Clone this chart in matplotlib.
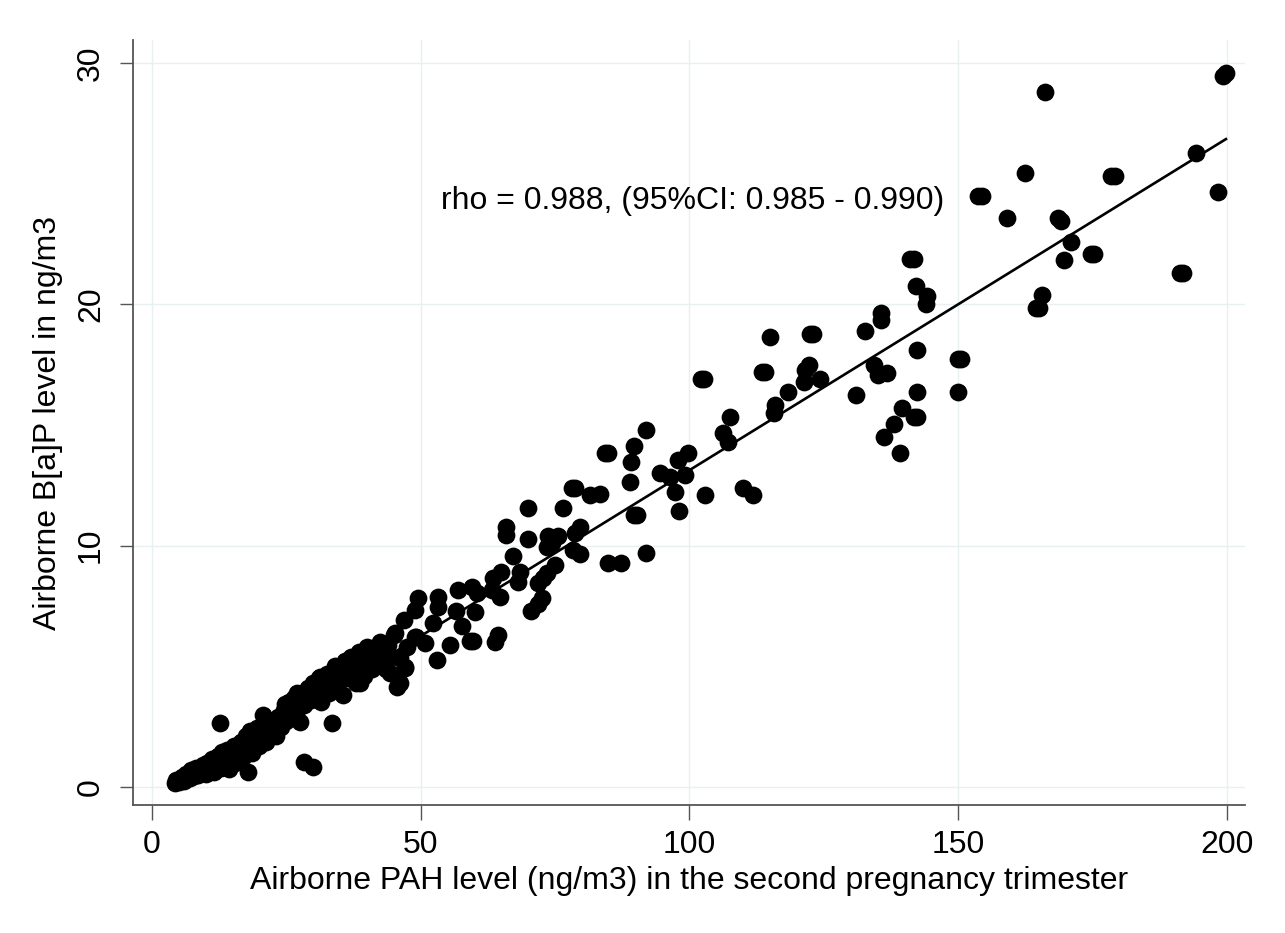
import numpy as np
import matplotlib
matplotlib.use("Agg")
import matplotlib.pyplot as plt

plt.rcParams['font.family'] = ['Liberation Sans', 'DejaVu Sans']

# Airborne PAH (x) and B[a]P (y) levels, ng/m3
pah = [
    # low-level dense cloud
    4.2, 4.5, 5.0, 5.5, 6.0, 6.3, 7.0, 7.2, 7.8, 8.2, 8.5, 9.0, 9.5, 10.0, 10.3, 10.8,
    11.2, 11.5, 12.0, 12.3, 12.8, 13.0, 13.5, 14.0, 14.3, 14.8, 15.2, 15.5, 16.0, 16.5,
    17.0, 17.4, 17.8, 18.3, 18.6, 19.0, 19.5, 20.0, 20.5, 20.7, 21.0, 21.3, 22.0, 22.5,
    23.0, 23.5, 24.0, 24.5, 24.7, 25.0, 25.5, 26.0, 26.5, 26.9, 27.0, 27.5, 28.0, 28.3,
    29.0, 29.5, 30.0, 30.5, 31.0, 31.3, 31.5, 32.0, 32.5, 33.0, 33.5, 34.0, 34.5, 35.0,
    35.5, 36.0, 36.5, 36.8, 37.0, 37.5, 38.0, 38.5, 38.7, 39.0, 39.5, 40.0, 40.5, 41.0,
    41.2, 41.5, 42.0, 42.5, 43.0, 43.5, 44.0, 44.3, 44.5, 45.0,
    # isolated low points
    12.7, 17.9, 33.4, 28.2, 30.0, 45.5, 47.1, 45.2, 49.2,
    # 45 - 100
    46.8, 48.9, 49.5, 53.3, 53.3, 52.3, 57.6, 59.2, 59.8, 64.4, 63.8, 48.9, 50.8, 55.4,
    53.0, 47.4, 46.1, 47.1, 46.1, 59.5, 57.0, 60.5, 60.1, 56.5, 63.2, 64.7, 72.5, 71.9,
    70.6, 65.0, 68.5, 75.0, 73.4, 68.1, 63.5, 71.9, 72.8, 67.1, 84.9, 87.3, 92.0, 73.4,
    74.4, 78.4, 79.6, 65.9, 65.9, 70.0, 73.7, 75.6, 79.6, 78.7, 76.5, 70.0, 89.6, 90.2,
    98.1, 78.1, 78.7, 81.5, 83.3, 89.0, 97.3, 94.5, 96.4, 99.2, 89.2, 97.9, 89.6, 84.3,
    84.9, 92.0, 99.8,
    # 100 - 145
    102.9, 109.9, 111.9, 107.2, 106.3, 107.6, 102.1, 102.7, 113.5, 114.1, 114.9, 115.8,
    116.0, 118.3, 121.3, 121.5, 122.2, 124.3, 122.4, 123.0, 130.9, 132.7, 134.3, 135.1,
    135.6, 135.7, 136.7, 136.2, 138.0, 139.2, 139.6, 141.7, 142.3, 142.3, 142.3, 141.1,
    141.7, 142.1, 144.0, 144.1,
    # 145 - 200
    150.0, 150.6, 150.0, 153.7, 154.4, 159.0, 162.5, 164.4, 165.0, 165.5, 166.1, 168.6,
    169.1, 169.7, 170.9, 174.7, 175.3, 178.5, 179.1, 191.2, 191.8, 194.2, 198.4, 199.3,
    199.8,
]
bap = [
    0.15, 0.30, 0.20, 0.40, 0.25, 0.55, 0.35, 0.70, 0.45, 0.80, 0.50, 0.65, 0.90, 0.55, 1.00, 0.75,
    1.15, 0.60, 0.95, 1.30, 0.80, 1.45, 1.10, 1.55, 0.75, 1.30, 1.70, 1.00, 1.45, 1.85,
    1.25, 2.10, 1.60, 2.30, 1.40, 1.95, 2.45, 1.70, 2.20, 3.00, 2.60, 1.85, 2.45, 2.75,
    2.10, 2.90, 2.50, 3.20, 3.45, 2.75, 3.50, 2.95, 3.70, 3.90, 3.20, 2.70, 3.90, 3.40,
    4.10, 3.60, 4.30, 3.80, 4.50, 4.55, 3.50, 4.20, 4.70, 3.90, 4.40, 5.00, 4.10, 4.70,
    3.80, 5.20, 4.50, 5.25, 5.40, 4.90, 4.30, 5.60, 4.30, 5.10, 4.60, 5.80, 5.30, 4.90,
    5.75, 5.70, 5.20, 6.00, 5.50, 4.90, 5.90, 4.72, 5.40, 6.30,
    2.66, 0.63, 2.63, 1.05, 0.84, 4.16, 4.91, 6.36, 6.22,
    6.92, 7.34, 7.81, 7.88, 7.46, 6.78, 6.67, 6.06, 6.06, 6.29, 6.01, 6.22, 5.95, 5.88,
    5.26, 5.81, 5.33, 4.98, 4.29, 8.29, 8.16, 8.02, 7.27, 7.30, 8.16, 7.88, 7.81, 7.60,
    7.30, 8.92, 8.92, 9.19, 8.85, 8.50, 8.64, 8.44, 8.64, 9.57, 9.30, 9.30, 9.71, 9.96,
    10.10, 9.81, 9.67, 10.78, 10.44, 10.26, 10.40, 10.40, 10.78, 10.51, 11.58, 11.58, 11.29, 11.29,
    11.44, 12.37, 12.37, 12.10, 12.16, 12.65, 12.23, 13.02, 12.85, 12.93, 13.48, 13.57, 14.13, 13.85,
    13.85, 14.79, 13.85,
    12.12, 12.40, 12.10, 14.30, 14.65, 15.32, 16.91, 16.91, 17.21, 17.21, 18.63, 15.50,
    15.85, 16.38, 16.79, 17.30, 17.50, 16.91, 18.79, 18.79, 16.24, 18.91, 17.47, 17.07,
    19.35, 19.65, 17.16, 14.51, 15.04, 13.85, 15.72, 15.32, 15.32, 18.13, 16.38, 21.88,
    21.88, 20.76, 20.00, 20.35,
    17.72, 17.72, 16.38, 24.50, 24.50, 23.59, 25.46, 19.84, 19.84, 20.39, 28.80, 23.58,
    23.45, 21.86, 22.59, 22.11, 22.11, 25.32, 25.32, 21.31, 21.31, 26.26, 24.64, 29.45,
    29.60,
]

# fitted line
fit_intercept = -0.62
fit_slope = 0.1375

x_ticks = [0, 50, 100, 150, 200]
y_ticks = [0, 10, 20, 30]
note = "rho = 0.988, (95%CI: 0.985 - 0.990)"

fig = plt.figure(figsize=(12.85, 9.33), dpi=100)
ax = fig.add_axes([133 / 1285, 1 - 805 / 933, 1112 / 1285, 765 / 933])

ax.scatter(pah, bap, s=12.8 ** 2, c='black', linewidths=0, zorder=3)

xs = np.array([min(pah), max(pah)])
ax.plot(xs, fit_intercept + fit_slope * xs, color='black', lw=1.9, zorder=4)

ax.text(53.8, 24.3, note, fontsize=23, ha='left', va='center', zorder=5)

ax.set_xlim(-3.53, 203.35)
ax.set_ylim(-0.75, 30.96)
ax.set_xticks(x_ticks)
ax.set_yticks(y_ticks)
ax.grid(True, color='#e9f0f1', lw=1.0, zorder=0)

for side in ['top', 'right']:
    ax.spines[side].set_visible(False)
for side in ['left', 'bottom']:
    ax.spines[side].set_color('#555555')
    ax.spines[side].set_linewidth(1.3)

ax.tick_params(axis='x', length=11, width=1.0, color='#555555', pad=7, labelsize=23)
ax.tick_params(axis='y', length=9.5, width=1.0, color='#555555', pad=10, labelsize=23,
               labelrotation=90)
for lab in ax.get_yticklabels():
    lab.set_va('center')

ax.set_xlabel("Airborne PAH level (ng/m3) in the second pregnancy trimester", fontsize=23)
ax.set_ylabel("Airborne B[a]P level in ng/m3", fontsize=23)
ax.xaxis.set_label_coords(0.5, -0.1)
ax.xaxis.label.set_va('center')
ax.yaxis.set_label_coords(-0.0764, 0.5)
ax.yaxis.label.set_va('center')

fig.savefig("out.png", dpi=100, facecolor='white')
